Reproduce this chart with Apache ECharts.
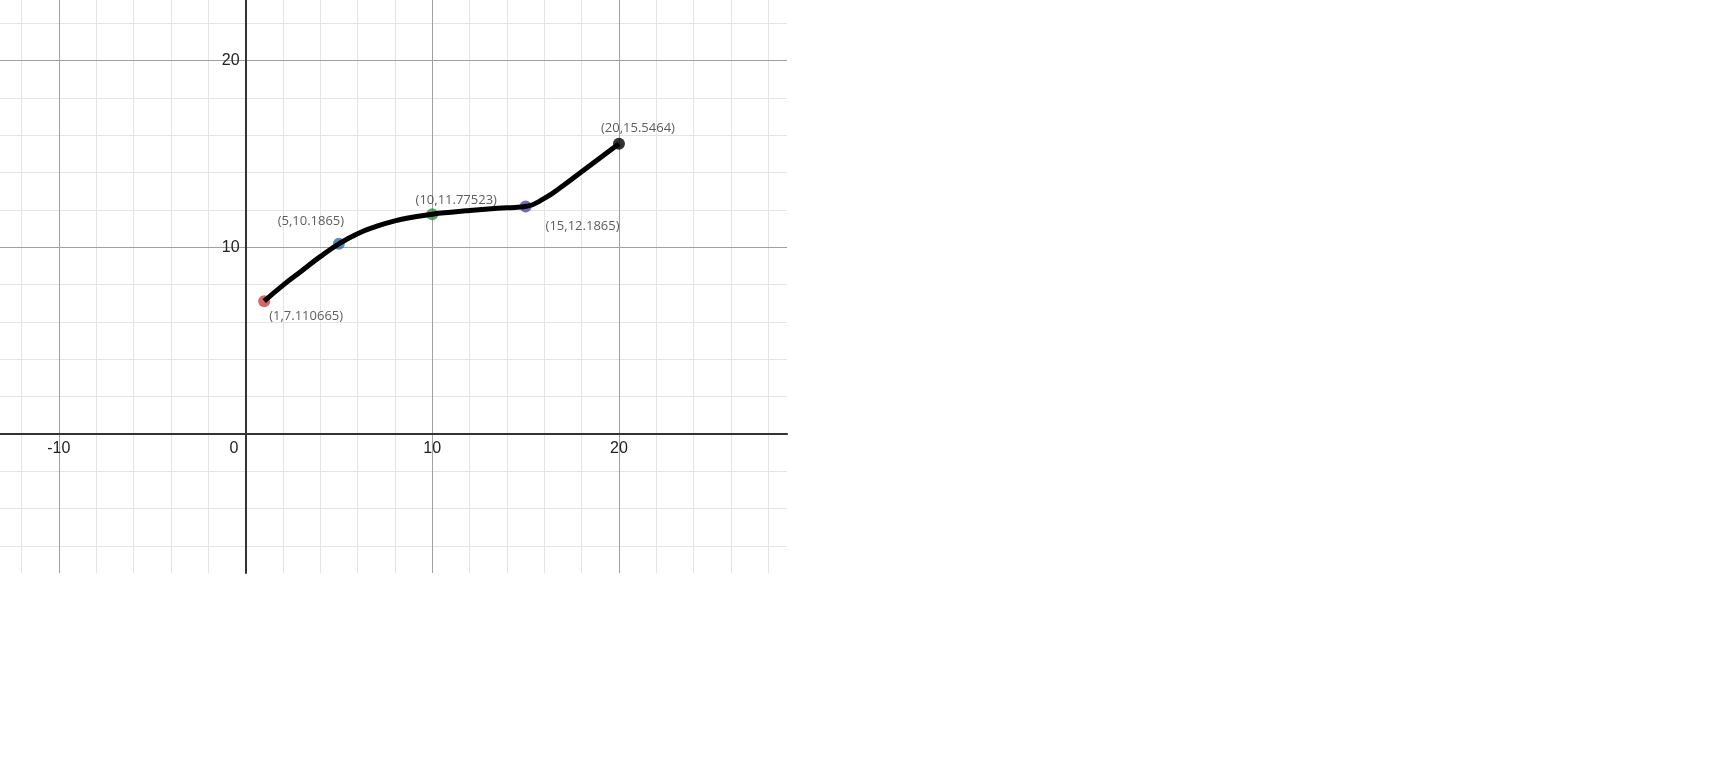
<!DOCTYPE html>
<html><head><meta charset="utf-8">
<script src="https://cdn.jsdelivr.net/npm/echarts@6/dist/echarts.min.js"></script>
<style>html,body{margin:0;padding:0;background:#fff}#c{width:1711px;height:779px}</style>
</head><body><div id="c"></div>
<script>
// curve samples
const curveX = [1,2,3,4,5,6,7,8,9,10,11,12,13,14,15,16,17,18,19,20];
const curveY = [7.110665,7.96,8.73,9.5,10.1865,10.73,11.12,11.42,11.62,11.77523,11.88,11.97,12.05,12.12,12.1865,12.62,13.3,14.05,14.8,15.5464];
// labelled points
const pointX = [1,5,10,15,20];
const pointY = [7.110665,10.1865,11.77523,12.1865,15.5464];
const pointColors = ['#c74440','#2d70b3','#388c46','#6042a6','#000000'];
// axis ticks
const xTickLabels = [-10,0,10,20];
const yTickLabels = [10,20];
const xMinor = [-12,-10,-8,-6,-4,-2,2,4,6,8,10,12,14,16,18,20,22,24,26,28];
const yMinor = [-6,-4,-2,2,4,6,8,10,12,14,16,18,20,22];
const xMajor = [-10,10,20];
const yMajor = [10,20];

const X_MIN = -13.15, X_MAX = 29, Y_MIN = -7.45, Y_MAX = 23.25;
const GW = 787, GH = 573;

const labelPlace = [
  {align:'left', offset:[5,15]},
  {align:'center', offset:[-28,-23]},
  {align:'center', offset:[24,-14]},
  {align:'left', offset:[20,20]},
  {align:'center', offset:[19,-15]}
];

const chart = echarts.init(document.getElementById('c'));
const gridSeries = (vx, vy, color, z) => ({
  type:'line', data:[[0,0]], symbol:'none', lineStyle:{opacity:0}, z:z, silent:true,
  markLine:{silent:true, symbol:'none', label:{show:false}, animation:false,
    lineStyle:{color:color, width:1, type:'solid'},
    data: vx.map(v=>({xAxis:v})).concat(vy.map(v=>({yAxis:v})))}
});
const xOff = -(0 - Y_MIN) / (Y_MAX - Y_MIN) * GH;
const yOff = -(0 - X_MIN) / (X_MAX - X_MIN) * GW;
chart.setOption({
  backgroundColor:'#fff',
  animation:false,
  grid:{left:0, top:0, width:GW, height:GH, containLabel:false, outerBoundsMode:'none'},
  xAxis:{type:'value', min:X_MIN, max:X_MAX, z:5, position:'bottom', offset:xOff,
    axisLine:{show:true, onZero:false, lineStyle:{color:'#333', width:2}},
    axisTick:{show:false}, splitLine:{show:false},
    axisLabel:{customValues:xTickLabels, margin:7, color:'#222', fontSize:16, fontFamily:'Arial, Liberation Sans',
      formatter:v=> v===0 ? '{o|0}' : String(v),
      rich:{o:{fontSize:16, color:'#222', fontFamily:'Arial, Liberation Sans', padding:[0,23,0,0]}}}
  },
  yAxis:{type:'value', min:Y_MIN, max:Y_MAX, z:5, position:'left', offset:yOff,
    axisLine:{show:true, onZero:false, lineStyle:{color:'#333', width:2}},
    axisTick:{show:false}, splitLine:{show:false},
    axisLabel:{customValues:yTickLabels, margin:6, color:'#222', fontSize:16, fontFamily:'Arial, Liberation Sans'}
  },
  series:[
    gridSeries(xMinor, yMinor, '#e4e4e4', 1),
    gridSeries(xMajor, yMajor, '#a0a0a0', 2),
    {type:'scatter', z:8, symbolSize:12,
      data: pointX.map((x,i)=>({value:[x,pointY[i]], itemStyle:{color:pointColors[i]},
        label:{show:true, position:'inside', align:labelPlace[i].align, verticalAlign:'middle', offset:labelPlace[i].offset,
          formatter:'('+x+','+pointY[i]+')', color:'#333', fontSize:13, fontFamily:'Open Sans'}})),
    },
    {type:'line', z:9, symbol:'none', smooth:0.5, data: curveX.map((x,i)=>[x,curveY[i]]),
      lineStyle:{color:'#000', width:5}}
  ]
});
</script></body></html>
